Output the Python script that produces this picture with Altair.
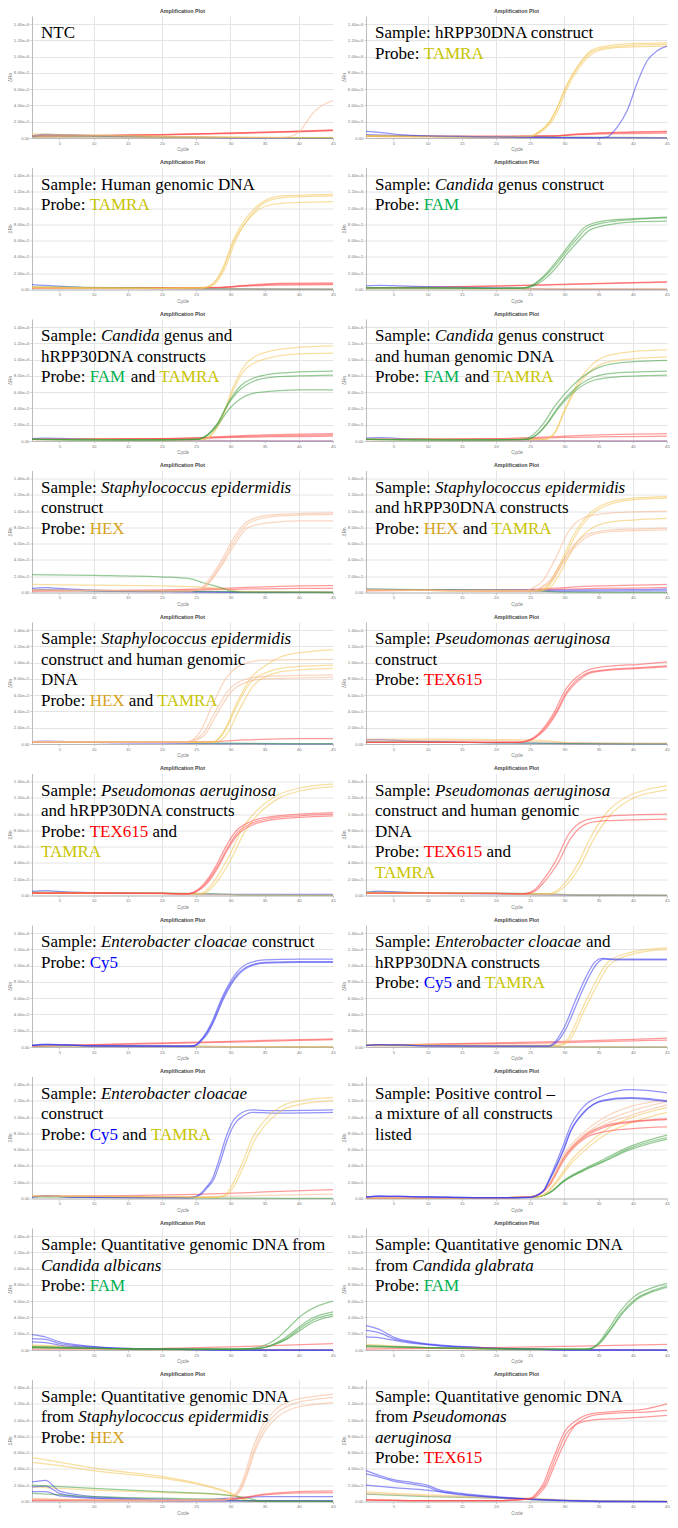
import altair as alt
import pandas as pd

# ---------------- channel colours (line colours) ----------------
CH_KEYS = ["C", "F", "H", "T", "R"]          # Cy5, FAM, HEX, TAMRA, TEX615
CH_COLORS = ["#3b3bf0", "#3f9e3f", "#f5b48e", "#f2c453", "#ff4848"]

# ---------------- traces: (channel, cycles, dRn / 1e5) ----------------
P01 = [
    ("R", [1, 10, 20, 30, 40, 45], [0.25, 0.3, 0.4, 0.6, 0.8, 0.95]),
    ("R", [1, 10, 20, 30, 40, 45], [0.2, 0.28, 0.38, 0.55, 0.75, 0.9]),
    ("R", [1, 10, 20, 30, 40, 45], [0.3, 0.33, 0.42, 0.62, 0.85, 1.0]),
    ("C", [1, 3, 6, 10, 20, 30, 45], [0.3, 0.45, 0.4, 0.3, 0.15, 0.05, 0.02]),
    ("C", [1, 3, 6, 10, 20, 30, 45], [0.2, 0.35, 0.3, 0.25, 0.1, 0.03, 0.02]),
    ("F", [1, 10, 20, 30, 45], [0.1, 0.15, 0.1, 0.05, 0.03]),
    ("T", [1, 10, 20, 30, 45], [0.5, 0.35, 0.2, 0.1, 0.05]),
    ("T", [1, 10, 20, 30, 45], [0.3, 0.3, 0.2, 0.1, 0.05]),
    ("H", [1, 20, 37, 38.5, 40, 41, 42, 43.4, 45], [0.1, 0.05, 0.05, 0.15, 0.7, 1.8, 3.0, 4.0, 4.6]),
]
P02 = [
    ("R", [1, 10, 20, 28, 32, 36, 40, 45], [0.2, 0.2, 0.2, 0.25, 0.45, 0.6, 0.7, 0.75]),
    ("R", [1, 10, 20, 28, 32, 36, 40, 45], [0.2, 0.2, 0.2, 0.25, 0.5, 0.65, 0.75, 0.8]),
    ("R", [1, 10, 20, 28, 32, 36, 40, 45], [0.2, 0.2, 0.2, 0.22, 0.4, 0.5, 0.55, 0.6]),
    ("F", [1, 10, 20, 30, 45], [0.3, 0.2, 0.15, 0.1, 0.05]),
    ("H", [1, 10, 20, 30, 45], [0.2, 0.15, 0.1, 0.05, 0.05]),
    ("C", [1, 5, 10, 20, 30, 45], [0.4, 0.3, 0.2, 0.1, 0.05, 0.03]),
    ("T", [1, 10, 20, 25, 26, 28, 29, 30, 32, 34, 36, 40, 45], [0.3, 0.2, 0.15, 0.2, 0.6, 2.2, 3.8, 5.9, 8.9, 10.8, 11.3, 11.6, 11.7]),
    ("T", [1, 10, 20, 25.3, 26.3, 28.3, 29.3, 30.3, 32.3, 34.3, 36.3, 40, 45], [0.3, 0.2, 0.15, 0.2, 0.6, 2.2, 3.8, 5.9, 8.8, 10.5, 11.0, 11.2, 11.3]),
    ("T", [1, 10, 20, 25, 26, 28, 29, 30, 32, 34, 36, 40, 45], [0.2, 0.15, 0.15, 0.2, 0.6, 2.2, 3.8, 5.8, 8.8, 10.6, 11.1, 11.4, 11.5]),
    ("C", [1, 3, 6, 10, 20, 30, 35, 36.2, 37.7, 39.2, 40.6, 42.1, 43.5, 45], [0.8, 0.7, 0.4, 0.25, 0.15, 0.05, 0.02, 0.1, 1.3, 3.4, 6.7, 9.5, 10.7, 11.3]),
]
P03 = [
    ("R", [1, 10, 20, 28, 32, 37, 45], [0.2, 0.2, 0.2, 0.25, 0.5, 0.75, 0.8]),
    ("R", [1, 10, 20, 28, 32, 37, 45], [0.2, 0.2, 0.2, 0.22, 0.4, 0.55, 0.6]),
    ("R", [1, 10, 20, 28, 32, 37, 45], [0.2, 0.2, 0.2, 0.24, 0.45, 0.65, 0.7]),
    ("C", [1, 3, 6, 10, 20, 30, 45], [0.6, 0.5, 0.35, 0.2, 0.12, 0.05, 0.02]),
    ("F", [1, 10, 20, 30, 45], [0.3, 0.25, 0.15, 0.1, 0.05]),
    ("H", [1, 10, 20, 30, 45], [0.2, 0.15, 0.1, 0.05, 0.05]),
    ("T", [1, 10, 20, 26, 27.3, 28.9, 30.5, 32.4, 35, 37.5, 45], [0.3, 0.2, 0.15, 0.2, 0.6, 2.6, 6.2, 8.9, 10.9, 11.5, 11.7]),
    ("T", [1, 10, 20, 26, 27.3, 28.9, 30.5, 32.4, 35, 37.5, 45], [0.3, 0.2, 0.15, 0.2, 0.6, 2.5, 5.9, 8.4, 10.2, 10.6, 10.8]),
    ("T", [1, 10, 20, 26.3, 27.6, 29.2, 30.8, 32.7, 35.3, 37.8, 45], [0.2, 0.15, 0.15, 0.2, 0.6, 2.6, 6.1, 8.8, 10.8, 11.3, 11.5]),
]
P04 = [
    ("R", [1, 10, 20, 30, 40, 45], [0.2, 0.3, 0.45, 0.65, 0.85, 0.95]),
    ("R", [1, 10, 20, 30, 40, 45], [0.2, 0.27, 0.4, 0.6, 0.8, 0.9]),
    ("C", [1, 3, 6, 10, 20, 25, 30, 45], [0.45, 0.5, 0.45, 0.35, 0.2, 0.1, 0.03, 0.02]),
    ("T", [1, 10, 20, 30, 45], [0.2, 0.15, 0.1, 0.08, 0.05]),
    ("H", [1, 10, 20, 30, 45], [0.15, 0.12, 0.1, 0.08, 0.08]),
    ("F", [1, 10, 20, 24, 25.2, 26.8, 28.7, 29.9, 31.5, 33.2, 36.3, 40, 45], [0.2, 0.2, 0.15, 0.2, 0.5, 1.5, 3.3, 4.6, 6.3, 7.8, 8.5, 8.7, 8.9]),
    ("F", [1, 10, 20, 24.5, 25.7, 27.3, 29.2, 30.4, 32, 33.7, 36.8, 40, 45], [0.2, 0.2, 0.15, 0.2, 0.5, 1.4, 3.1, 4.4, 5.9, 7.3, 8.0, 8.3, 8.4]),
    ("F", [1, 10, 20, 24.2, 25.4, 27, 28.9, 30.1, 31.7, 33.4, 36.5, 40, 45], [0.2, 0.2, 0.15, 0.2, 0.5, 1.5, 3.2, 4.5, 6.1, 7.6, 8.3, 8.6, 8.8]),
]
P05 = [
    ("R", [1, 10, 20, 25, 30, 35, 40, 45], [0.2, 0.25, 0.3, 0.4, 0.6, 0.75, 0.85, 0.9]),
    ("R", [1, 10, 20, 25, 30, 35, 40, 45], [0.2, 0.22, 0.25, 0.3, 0.45, 0.5, 0.55, 0.6]),
    ("R", [1, 10, 20, 25, 30, 35, 40, 45], [0.2, 0.24, 0.28, 0.35, 0.5, 0.62, 0.7, 0.75]),
    ("C", [1, 3, 6, 10, 20, 30, 45], [0.3, 0.35, 0.3, 0.2, 0.1, 0.05, 0.02]),
    ("H", [1, 10, 20, 30, 45], [0.15, 0.12, 0.1, 0.05, 0.05]),
    ("T", [1, 10, 20, 26, 27.3, 28.9, 30.5, 32.4, 35.6, 40, 45], [0.2, 0.2, 0.15, 0.2, 0.8, 3.2, 6.8, 9.6, 11.0, 11.5, 11.7]),
    ("T", [1, 10, 20, 26, 27.3, 28.9, 30.5, 32.4, 35.6, 40, 45], [0.2, 0.2, 0.15, 0.2, 0.8, 3.0, 6.4, 9.0, 10.2, 10.7, 10.8]),
    ("F", [1, 10, 20, 25, 26.7, 28, 29.9, 31.5, 33, 35.6, 40, 45], [0.2, 0.15, 0.15, 0.2, 0.8, 2.0, 5.0, 6.8, 7.6, 8.2, 8.5, 8.6]),
    ("F", [1, 10, 20, 25, 26.7, 28, 29.9, 31.5, 33, 35.6, 40, 45], [0.2, 0.15, 0.15, 0.2, 0.8, 2.0, 4.8, 6.4, 7.2, 7.8, 8.0, 8.1]),
    ("F", [1, 10, 20, 25, 26.7, 28, 29.9, 31.5, 33, 35.6, 40, 45], [0.2, 0.15, 0.15, 0.2, 0.7, 1.8, 4.0, 5.2, 5.8, 6.1, 6.3, 6.3]),
]
P06 = [
    ("R", [1, 10, 20, 25, 30, 35, 40, 45], [0.2, 0.25, 0.3, 0.4, 0.6, 0.75, 0.85, 0.9]),
    ("R", [1, 10, 20, 25, 30, 35, 40, 45], [0.2, 0.22, 0.25, 0.3, 0.45, 0.5, 0.55, 0.6]),
    ("C", [1, 3, 6, 10, 20, 30, 45], [0.35, 0.4, 0.3, 0.2, 0.1, 0.05, 0.02]),
    ("H", [1, 10, 20, 30, 45], [0.15, 0.12, 0.1, 0.05, 0.05]),
    ("T", [1, 10, 20, 27, 28, 28.7, 29.9, 31, 32, 33.8, 36.3, 40, 45], [0.2, 0.2, 0.15, 0.2, 0.5, 1.2, 3.6, 5.6, 7.2, 9.2, 10.5, 11.0, 11.2]),
    ("T", [1, 10, 20, 27, 28, 28.7, 29.9, 31, 32, 33.8, 36.3, 40, 45], [0.2, 0.2, 0.15, 0.2, 0.5, 1.1, 3.4, 5.3, 6.8, 8.6, 9.7, 10.1, 10.3]),
    ("F", [1, 10, 20, 24, 25.5, 26.8, 28.7, 31.3, 34.4, 38, 45], [0.2, 0.15, 0.15, 0.2, 0.8, 2.0, 4.4, 6.9, 8.8, 9.6, 9.9]),
    ("F", [1, 10, 20, 24.5, 26, 27.3, 29.2, 31.8, 34.4, 38, 45], [0.2, 0.15, 0.15, 0.2, 0.8, 2.0, 4.3, 6.6, 7.9, 8.4, 8.6]),
    ("F", [1, 10, 20, 24.5, 26, 27.3, 29.2, 31.8, 34.4, 38, 45], [0.2, 0.15, 0.15, 0.2, 0.8, 1.9, 4.1, 6.3, 7.5, 7.9, 8.1]),
]
P07 = [
    ("R", [1, 10, 20, 25, 30, 35, 40, 45], [0.2, 0.25, 0.3, 0.4, 0.55, 0.7, 0.8, 0.85]),
    ("R", [1, 10, 20, 25, 30, 35, 40, 45], [0.2, 0.22, 0.25, 0.3, 0.38, 0.45, 0.5, 0.5]),
    ("C", [1, 3, 6, 10, 20, 30, 45], [0.5, 0.6, 0.45, 0.3, 0.15, 0.05, 0.02]),
    ("C", [1, 3, 6, 10, 20, 30, 45], [0.3, 0.35, 0.3, 0.2, 0.1, 0.05, 0.02]),
    ("F", [1, 10, 20, 30, 45], [0.3, 0.2, 0.15, 0.1, 0.05]),
    ("T", [1, 10, 20, 25, 28, 30, 32, 45], [1.0, 0.9, 0.8, 0.7, 0.5, 0.3, 0.1, 0.05]),
    ("F", [1, 10, 20.4, 24, 26, 28.6, 30.5, 32, 45], [2.2, 2.1, 1.9, 1.7, 1.2, 0.6, 0.1, 0.02, 0.0]),
    ("H", [1, 10, 20, 24, 25.5, 26.7, 28.6, 30.5, 32.4, 35.6, 40, 45], [0.3, 0.25, 0.2, 0.2, 0.4, 1.4, 3.8, 6.7, 8.7, 9.5, 9.7, 9.8]),
    ("H", [1, 10, 20, 24.2, 25.7, 26.9, 28.8, 30.7, 32.6, 35.8, 40, 45], [0.3, 0.25, 0.2, 0.2, 0.4, 1.3, 3.7, 6.5, 8.5, 9.3, 9.5, 9.6]),
    ("H", [1, 10, 20, 24.2, 25.7, 26.9, 28.8, 30.7, 32.6, 35.8, 40, 45], [0.3, 0.25, 0.2, 0.2, 0.4, 1.2, 3.4, 6.0, 8.0, 8.6, 8.8, 8.8]),
]
P08 = [
    ("R", [1, 10, 20, 25, 30, 35, 40, 45], [0.25, 0.3, 0.3, 0.35, 0.6, 0.8, 0.9, 1.0]),
    ("R", [1, 10, 20, 25, 30, 35, 40, 45], [0.2, 0.25, 0.25, 0.3, 0.4, 0.5, 0.55, 0.6]),
    ("C", [1, 10, 20, 30, 40, 45], [0.3, 0.3, 0.3, 0.3, 0.35, 0.4]),
    ("C", [1, 10, 20, 30, 45], [0.4, 0.3, 0.2, 0.15, 0.2]),
    ("F", [1, 10, 20, 25, 30, 45], [0.4, 0.35, 0.3, 0.25, 0.05, 0.02]),
    ("T", [1, 10, 20, 26, 27.5, 29.3, 31.3, 33.8, 36.3, 40, 45], [0.3, 0.25, 0.2, 0.2, 0.8, 3.4, 7.0, 9.8, 11.0, 11.6, 11.8]),
    ("T", [1, 10, 20, 26.2, 27.7, 29.5, 31.5, 34, 36.5, 40, 45], [0.3, 0.25, 0.2, 0.2, 0.8, 3.3, 6.8, 9.6, 10.8, 11.4, 11.6]),
    ("T", [1, 10, 20, 26.5, 28, 29.5, 31.5, 34, 37, 40, 45], [0.3, 0.25, 0.2, 0.2, 0.7, 2.6, 5.8, 7.9, 8.7, 8.9, 9.1]),
    ("H", [1, 10, 20, 24, 25.5, 26.8, 28.7, 30.6, 33.2, 37, 40, 45], [0.3, 0.25, 0.2, 0.2, 0.6, 1.4, 4.2, 7.5, 9.3, 9.8, 9.9, 10.0]),
    ("H", [1, 10, 20, 25, 26.5, 28, 29.5, 31.5, 33.5, 37, 40, 45], [0.3, 0.25, 0.2, 0.2, 0.6, 1.6, 3.6, 5.9, 7.2, 7.7, 7.8, 7.9]),
    ("H", [1, 10, 20, 25.2, 26.7, 28.2, 29.7, 31.7, 33.7, 37, 40, 45], [0.3, 0.25, 0.2, 0.2, 0.6, 1.5, 3.5, 5.7, 7.0, 7.5, 7.6, 7.7]),
]
P09 = [
    ("R", [1, 10, 20, 28, 32, 36, 40, 45], [0.2, 0.2, 0.25, 0.3, 0.5, 0.6, 0.65, 0.65]),
    ("C", [1, 3, 6, 10, 20, 30, 45], [0.3, 0.35, 0.3, 0.2, 0.1, 0.05, 0.02]),
    ("F", [1, 10, 20, 30, 45], [0.3, 0.25, 0.2, 0.1, 0.05]),
    ("T", [1, 10, 20, 27, 28, 29.2, 30.8, 32.7, 35.6, 38, 42, 45], [0.3, 0.25, 0.2, 0.2, 0.5, 1.8, 4.8, 7.8, 9.9, 10.9, 11.4, 11.6]),
    ("T", [1, 10, 20, 27, 28, 29.2, 30.8, 32.7, 35.6, 38, 45], [0.3, 0.25, 0.2, 0.2, 0.4, 1.6, 4.4, 7.3, 8.9, 9.4, 9.7]),
    ("T", [1, 10, 20, 27.5, 28.5, 29.7, 31.3, 33.2, 36.1, 38.5, 45], [0.3, 0.25, 0.2, 0.2, 0.4, 1.5, 4.2, 7.0, 8.6, 9.0, 9.3]),
    ("H", [1, 10, 20, 23, 24.2, 25.5, 27.3, 29.2, 31.8, 35, 45], [0.3, 0.25, 0.2, 0.2, 0.4, 1.4, 4.6, 7.9, 9.8, 10.3, 10.4]),
    ("H", [1, 10, 20, 23.3, 24.5, 26, 27.8, 29.7, 32, 35, 45], [0.3, 0.25, 0.2, 0.2, 0.4, 1.3, 4.0, 6.6, 7.9, 8.3, 8.5]),
    ("H", [1, 10, 20, 23.5, 24.8, 26.3, 28.1, 30, 32.3, 35, 45], [0.3, 0.25, 0.2, 0.2, 0.4, 1.2, 3.8, 6.3, 7.6, 8.0, 8.2]),
]
P10 = [
    ("T", [1, 10, 20, 25, 28, 30, 33, 45], [0.6, 0.6, 0.55, 0.5, 0.35, 0.15, 0.05, 0.05]),
    ("C", [1, 3, 6, 10, 20, 30, 45], [0.5, 0.55, 0.4, 0.3, 0.15, 0.05, 0.02]),
    ("F", [1, 10, 20, 30, 45], [0.3, 0.25, 0.15, 0.08, 0.05]),
    ("H", [1, 10, 20, 30, 45], [0.5, 0.45, 0.4, 0.2, 0.1]),
    ("R", [1, 10, 20, 23, 24.5, 25.5, 26.8, 28.7, 29.9, 31.9, 33.8, 37, 41, 45], [0.2, 0.2, 0.2, 0.2, 0.4, 0.8, 1.8, 4.2, 6.3, 8.3, 9.2, 9.6, 9.8, 10.1]),
    ("R", [1, 10, 20, 23.3, 24.8, 25.8, 27.1, 29, 30.2, 32.2, 34.1, 37, 41, 45], [0.2, 0.2, 0.2, 0.2, 0.4, 0.8, 1.7, 4.0, 6.0, 7.9, 8.8, 9.1, 9.3, 9.5]),
    ("R", [1, 10, 20, 23.2, 24.7, 25.7, 27, 28.9, 30.1, 32.1, 34, 37, 41, 45], [0.2, 0.2, 0.2, 0.2, 0.4, 0.8, 1.8, 4.1, 6.1, 8.1, 8.9, 9.2, 9.4, 9.6]),
]
P11 = [
    ("C", [1, 3, 6, 10, 20, 30, 45], [0.5, 0.6, 0.45, 0.35, 0.25, 0.15, 0.15]),
    ("F", [1, 10, 20, 28, 32, 45], [0.4, 0.35, 0.3, 0.2, 0.05, 0.02]),
    ("H", [1, 10, 20, 30, 45], [0.3, 0.25, 0.2, 0.1, 0.05]),
    ("T", [1, 10, 20, 25.5, 26.7, 28, 29.9, 31.8, 33.7, 36.8, 40.6, 45], [0.3, 0.3, 0.25, 0.2, 0.8, 2.2, 5.0, 8.3, 10.3, 12.3, 13.3, 13.7]),
    ("T", [1, 10, 20, 25.9, 27.1, 28.4, 30.3, 32.2, 34.1, 37.2, 41, 45], [0.3, 0.3, 0.25, 0.2, 0.8, 2.1, 4.8, 8.0, 10.0, 12.0, 13.0, 13.4]),
    ("R", [1, 10, 20, 23.5, 24.8, 26.1, 28, 29.2, 30.8, 33, 36, 40, 45], [0.3, 0.3, 0.25, 0.2, 0.5, 1.4, 3.8, 5.8, 7.9, 9.1, 9.7, 10.0, 10.2]),
    ("R", [1, 10, 20, 23.7, 25, 26.3, 28.2, 29.4, 31, 33.2, 36, 40, 45], [0.3, 0.3, 0.25, 0.2, 0.5, 1.4, 3.7, 5.6, 7.7, 8.9, 9.5, 9.8, 10.0]),
    ("R", [1, 10, 20, 23.8, 25.1, 26.4, 28.3, 29.5, 31.1, 33.3, 36, 40, 45], [0.3, 0.3, 0.25, 0.2, 0.5, 1.3, 3.6, 5.5, 7.5, 8.7, 9.3, 9.6, 9.8]),
]
P12 = [
    ("C", [1, 3, 6, 10, 20, 30, 45], [0.4, 0.55, 0.4, 0.3, 0.2, 0.08, 0.03]),
    ("F", [1, 10, 20, 28, 32, 45], [0.4, 0.35, 0.3, 0.2, 0.05, 0.02]),
    ("H", [1, 10, 20, 30, 45], [0.3, 0.25, 0.2, 0.1, 0.05]),
    ("T", [1, 10, 20, 27.5, 28.7, 29.9, 31.9, 33.8, 36.3, 39.5, 42, 45], [0.3, 0.3, 0.25, 0.2, 0.5, 1.4, 3.8, 7.1, 10.3, 12.3, 13.0, 13.5]),
    ("T", [1, 10, 20, 27.9, 29.1, 30.3, 32.3, 34.2, 36.7, 39.9, 42.4, 45], [0.3, 0.3, 0.25, 0.2, 0.5, 1.3, 3.6, 6.8, 9.9, 11.9, 12.6, 13.0]),
    ("R", [1, 10, 20, 24, 25.5, 26.8, 28.7, 30.6, 33.2, 36, 40, 45], [0.3, 0.3, 0.25, 0.2, 0.6, 1.8, 4.2, 7.5, 9.3, 9.7, 9.9, 10.0]),
    ("R", [1, 10, 20, 24.3, 25.8, 27.1, 29, 30.9, 33.5, 36, 40, 45], [0.3, 0.3, 0.25, 0.2, 0.6, 1.7, 3.9, 7.0, 8.9, 9.2, 9.3, 9.4]),
]
P13 = [
    ("R", [1, 10, 20, 30, 40, 45], [0.1, 0.3, 0.5, 0.7, 0.9, 1.0]),
    ("R", [1, 10, 20, 30, 40, 45], [0.1, 0.25, 0.4, 0.6, 0.8, 0.9]),
    ("F", [1, 10, 20, 30, 45], [0.15, 0.1, 0.1, 0.05, 0.03]),
    ("T", [1, 10, 20, 30, 45], [0.2, 0.15, 0.1, 0.05, 0.03]),
    ("H", [1, 10, 20, 30, 45], [0.15, 0.1, 0.08, 0.05, 0.03]),
    ("C", [1, 3, 6, 10, 20, 24, 24.8, 25.5, 26.5, 27.3, 28.9, 30.5, 32.4, 35, 40, 45], [0.2, 0.35, 0.25, 0.15, 0.1, 0.1, 0.2, 0.7, 1.8, 3.1, 6.3, 8.7, 10.2, 10.7, 10.8, 10.8]),
    ("C", [1, 3, 6, 10, 20, 24.2, 25, 25.7, 26.7, 27.5, 29.1, 30.7, 32.6, 35, 40, 45], [0.2, 0.3, 0.25, 0.15, 0.1, 0.1, 0.2, 0.7, 1.7, 3.0, 6.1, 8.4, 9.8, 10.3, 10.4, 10.4]),
    ("C", [1, 3, 6, 10, 20, 24.1, 24.9, 25.6, 26.6, 27.4, 29, 30.6, 32.5, 35, 40, 45], [0.2, 0.3, 0.25, 0.15, 0.1, 0.1, 0.2, 0.7, 1.8, 3.0, 6.2, 8.5, 9.9, 10.4, 10.5, 10.5]),
]
P14 = [
    ("R", [1, 10, 20, 30, 40, 45], [0.2, 0.35, 0.5, 0.7, 0.95, 1.1]),
    ("R", [1, 10, 20, 30, 40, 45], [0.2, 0.3, 0.4, 0.55, 0.75, 0.85]),
    ("F", [1, 10, 20, 30, 45], [0.2, 0.15, 0.1, 0.05, 0.02]),
    ("H", [1, 10, 20, 30, 45], [0.15, 0.1, 0.08, 0.05, 0.03]),
    ("T", [1, 10, 20, 29, 30.6, 32.6, 34.5, 36.3, 39.5, 42, 45], [0.3, 0.25, 0.2, 0.2, 1.1, 4.7, 7.9, 10.4, 11.6, 12.0, 12.2]),
    ("T", [1, 10, 20, 29.3, 30.9, 32.9, 34.8, 36.6, 39.8, 42.3, 45], [0.3, 0.25, 0.2, 0.2, 1.0, 4.5, 7.6, 10.1, 11.4, 11.8, 12.0]),
    ("C", [1, 3, 6, 10, 20, 27.5, 28.7, 29.9, 31.9, 33.2, 34.5, 35.5, 38, 45], [0.2, 0.3, 0.25, 0.15, 0.1, 0.1, 0.7, 2.3, 6.3, 8.7, 10.5, 10.9, 10.8, 10.8]),
    ("C", [1, 3, 6, 10, 20, 27.8, 29, 30.2, 32.2, 33.5, 34.8, 35.8, 38, 45], [0.2, 0.3, 0.25, 0.15, 0.1, 0.1, 0.7, 2.2, 6.1, 8.5, 10.3, 10.8, 10.7, 10.7]),
]
P15 = [
    ("R", [1, 15, 25, 35, 45], [0.3, 0.35, 0.5, 0.8, 1.1]),
    ("H", [1, 20, 30, 45], [0.3, 0.2, 0.3, 0.55]),
    ("F", [1, 10, 20, 30, 45], [0.2, 0.15, 0.1, 0.05, 0.02]),
    ("C", [1, 3, 6, 10, 20, 24, 25.5, 26.4, 27.4, 28.4, 29.3, 30.3, 31.8, 33, 36, 45], [0.2, 0.3, 0.2, 0.15, 0.1, 0.1, 0.5, 1.3, 2.5, 4.9, 7.4, 9.4, 10.6, 10.9, 10.8, 10.9]),
    ("C", [1, 3, 6, 10, 20, 24.2, 25.7, 26.6, 27.6, 28.6, 29.5, 30.5, 32, 33.2, 36, 45], [0.2, 0.3, 0.2, 0.15, 0.1, 0.1, 0.5, 1.3, 2.4, 4.7, 7.1, 9.0, 10.2, 10.6, 10.5, 10.6]),
    ("T", [1, 10, 20, 28, 29.3, 30.3, 31.8, 33.2, 35.2, 37.6, 40, 45], [0.3, 0.25, 0.2, 0.15, 0.5, 1.7, 4.5, 7.4, 9.8, 11.4, 12.0, 12.4]),
    ("T", [1, 10, 20, 28.3, 29.6, 30.6, 32.1, 33.5, 35.5, 37.9, 40.3, 45], [0.3, 0.25, 0.2, 0.15, 0.5, 1.6, 4.3, 7.1, 9.4, 11.0, 11.6, 12.0]),
]
P16 = [
    ("F", [1, 10, 20, 26, 28, 29.9, 32.8, 35.7, 39.6, 45], [0.1, 0.1, 0.1, 0.2, 0.8, 2.2, 3.6, 4.8, 6.4, 7.8]),
    ("F", [1, 10, 20, 26, 28, 29.9, 32.8, 35.7, 39.6, 45], [0.1, 0.1, 0.1, 0.2, 0.8, 2.1, 3.4, 4.5, 6.0, 7.3]),
    ("F", [1, 10, 20, 26, 28, 29.9, 32.8, 35.7, 39.6, 45], [0.1, 0.1, 0.1, 0.2, 0.8, 2.1, 3.5, 4.6, 6.2, 7.5]),
    ("T", [1, 10, 20, 26, 27.5, 28.9, 30.9, 33.8, 36.7, 40, 45], [0.1, 0.1, 0.1, 0.2, 0.8, 2.2, 4.6, 7.0, 8.8, 10.0, 11.2]),
    ("T", [1, 10, 20, 26, 27.5, 28.9, 30.9, 33.8, 36.7, 40, 45], [0.1, 0.1, 0.1, 0.2, 0.7, 2.0, 4.2, 6.5, 8.2, 9.4, 10.6]),
    ("R", [1, 10, 20, 25, 26.5, 27.9, 28.9, 29.9, 32.8, 35.7, 40, 45], [0.1, 0.1, 0.1, 0.2, 0.6, 1.8, 3.4, 5.0, 7.7, 8.9, 9.5, 9.8]),
    ("R", [1, 10, 20, 25, 26.5, 27.9, 28.9, 29.9, 32.8, 35.7, 40, 45], [0.1, 0.1, 0.1, 0.2, 0.6, 1.7, 3.2, 4.7, 7.3, 8.2, 8.6, 8.8]),
    ("R", [1, 10, 20, 25, 26.5, 27.9, 28.9, 29.9, 32.8, 35.7, 40, 45], [0.1, 0.1, 0.1, 0.2, 0.6, 1.8, 3.3, 4.9, 7.5, 8.7, 9.4, 9.7]),
    ("H", [1, 10, 20, 25, 26.5, 27.9, 29.9, 32.8, 35.7, 39.6, 45], [0.1, 0.1, 0.1, 0.2, 0.6, 2.0, 5.4, 8.1, 9.9, 11.3, 12.1]),
    ("H", [1, 10, 20, 25, 26.5, 27.9, 29.9, 32.8, 35.7, 39.6, 45], [0.1, 0.1, 0.1, 0.2, 0.6, 1.9, 5.0, 7.7, 9.4, 10.7, 11.9]),
    ("H", [1, 10, 20, 25, 26.5, 27.9, 29.9, 32.8, 35.7, 39.6, 45], [0.1, 0.1, 0.1, 0.2, 0.6, 1.8, 4.8, 7.4, 9.0, 10.2, 11.5]),
    ("C", [1, 3, 6, 10, 20, 25, 26, 27, 27.9, 29.9, 30.9, 32.8, 35.7, 39.6, 42, 45], [0.2, 0.3, 0.25, 0.2, 0.1, 0.15, 0.4, 1.0, 2.6, 6.7, 8.9, 11.3, 12.7, 13.4, 13.3, 13.0]),
    ("C", [1, 3, 6, 10, 20, 25, 26, 27, 27.9, 29.9, 30.9, 32.8, 35.7, 39.6, 42, 45], [0.2, 0.3, 0.25, 0.2, 0.1, 0.15, 0.4, 1.0, 2.4, 6.0, 8.2, 10.5, 12.1, 12.4, 12.3, 12.0]),
    ("C", [1, 3, 6, 10, 20, 25, 26, 27, 27.9, 29.9, 30.9, 32.8, 35.7, 39.6, 42, 45], [0.2, 0.3, 0.25, 0.2, 0.1, 0.15, 0.4, 1.0, 2.4, 6.1, 8.3, 10.6, 12.0, 12.3, 12.2, 11.9]),
]
P17 = [
    ("H", [1, 10, 20, 30, 45], [0.3, 0.2, 0.1, 0.05, 0.02]),
    ("T", [1, 5, 10, 15, 20, 30, 45], [0.6, 0.5, 0.3, 0.15, 0.08, 0.05, 0.03]),
    ("T", [1, 5, 10, 15, 20, 30, 45], [0.5, 0.4, 0.25, 0.1, 0.05, 0.03, 0.02]),
    ("C", [1, 3, 5, 8, 12, 20, 30, 45], [1.9, 1.6, 1.0, 0.6, 0.3, 0.1, 0.0, 0.0]),
    ("C", [1, 3, 5, 8, 12, 20, 30, 45], [1.4, 1.3, 0.8, 0.5, 0.3, 0.1, 0.0, 0.0]),
    ("C", [1, 3, 5, 10, 20, 30, 45], [1.0, 0.9, 0.6, 0.3, 0.1, 0.0, 0.0]),
    ("R", [1, 15, 25, 35, 45], [0.1, 0.1, 0.3, 0.5, 0.8]),
    ("F", [1, 10, 20, 30, 33, 35.6, 36.8, 38.1, 40.6, 42.5, 45], [0.4, 0.2, 0.1, 0.1, 0.2, 0.8, 1.4, 2.4, 4.4, 5.3, 6.0]),
    ("F", [1, 10, 20, 30, 34, 36.5, 38, 39.4, 41.9, 45], [0.4, 0.2, 0.1, 0.1, 0.2, 0.8, 1.5, 2.4, 3.9, 4.7]),
    ("F", [1, 10, 20, 30, 34.2, 36.7, 38.2, 39.6, 42.1, 45], [0.3, 0.2, 0.1, 0.1, 0.2, 0.8, 1.4, 2.3, 3.7, 4.4]),
    ("F", [1, 10, 20, 30, 34.4, 36.9, 38.4, 39.8, 42.3, 45], [0.3, 0.2, 0.1, 0.1, 0.2, 0.8, 1.4, 2.2, 3.5, 4.2]),
]
P18 = [
    ("H", [1, 10, 20, 30, 45], [0.3, 0.2, 0.1, 0.05, 0.03]),
    ("T", [1, 5, 10, 20, 30, 45], [0.7, 0.5, 0.3, 0.1, 0.05, 0.03]),
    ("C", [1, 3, 5, 8, 12, 18, 25, 30, 45], [3.0, 2.5, 1.6, 1.0, 0.6, 0.3, 0.1, 0.0, 0.0]),
    ("C", [1, 3, 5, 8, 12, 18, 25, 30, 45], [2.4, 2.1, 1.4, 0.9, 0.5, 0.3, 0.1, 0.0, 0.0]),
    ("C", [1, 3, 5, 8, 12, 20, 30, 45], [1.6, 1.5, 1.2, 0.8, 0.5, 0.2, 0.05, 0.0]),
    ("R", [1, 20, 30, 45], [0.1, 0.3, 0.45, 0.7]),
    ("F", [1, 10, 20, 30, 33, 33.8, 35.1, 36.3, 38.2, 40.1, 42.7, 45], [0.5, 0.3, 0.15, 0.1, 0.1, 0.2, 1.0, 2.4, 4.8, 6.5, 7.6, 8.2]),
    ("F", [1, 10, 20, 30, 33.2, 34, 35.3, 36.5, 38.4, 40.3, 42.9, 45], [0.5, 0.3, 0.15, 0.1, 0.1, 0.2, 1.0, 2.3, 4.6, 6.2, 7.3, 7.9]),
    ("F", [1, 10, 20, 30, 33.3, 34.1, 35.4, 36.6, 38.5, 40.4, 43, 45], [0.4, 0.3, 0.15, 0.1, 0.1, 0.2, 1.0, 2.3, 4.5, 6.1, 7.2, 7.7]),
]
P19 = [
    ("T", [1, 6, 10.9, 20.6, 26.4, 29.3, 31.3, 32.9, 45], [5.4, 4.7, 4.0, 3.0, 2.0, 1.3, 0.6, 0.05, 0.02]),
    ("T", [1, 6, 10.9, 20.6, 26.4, 29.3, 31.3, 32.9, 45], [4.8, 4.3, 3.7, 2.8, 1.9, 1.2, 0.5, 0.05, 0.02]),
    ("T", [1, 10, 20, 28, 31, 33, 45], [1.8, 1.4, 1.1, 0.9, 0.6, 0.05, 0.02]),
    ("C", [1, 3, 5, 8, 12, 20, 25, 30, 35, 45], [2.4, 2.6, 1.3, 0.8, 0.5, 0.3, 0.2, 0.4, 0.6, 0.6]),
    ("C", [1, 3, 5, 8, 15, 25, 35, 45], [1.8, 1.9, 1.0, 0.6, 0.3, 0.1, 0.1, 0.1]),
    ("C", [1, 3, 5, 10, 20, 45], [1.2, 1.2, 0.7, 0.4, 0.1, 0.05]),
    ("F", [1, 10, 20, 28, 32, 35, 45], [2.0, 1.6, 1.2, 0.9, 0.5, 0.05, 0.0]),
    ("F", [1, 10, 20, 30, 35, 45], [1.0, 0.6, 0.4, 0.2, 0.02, 0.0]),
    ("R", [1, 20, 30, 35, 40, 45], [0.2, 0.1, 0.3, 0.9, 1.2, 1.3]),
    ("R", [1, 20, 30, 35, 40, 45], [0.1, 0.1, 0.25, 0.8, 1.05, 1.1]),
    ("H", [1, 10, 20, 29, 30.3, 31.3, 32.2, 33.2, 34.7, 36.6, 39, 42, 45], [0.3, 0.2, 0.15, 0.2, 0.6, 1.6, 3.6, 6.4, 9.3, 11.3, 12.4, 12.9, 13.2]),
    ("H", [1, 10, 20, 29.2, 30.5, 31.5, 32.4, 33.4, 34.9, 36.8, 39.2, 42, 45], [0.3, 0.2, 0.15, 0.2, 0.6, 1.6, 3.5, 6.2, 9.0, 10.9, 12.0, 12.5, 12.8]),
    ("H", [1, 10, 20, 29.3, 30.6, 31.6, 32.5, 33.5, 35, 36.9, 39.3, 42, 45], [0.3, 0.2, 0.15, 0.2, 0.6, 1.5, 3.4, 6.0, 8.6, 10.4, 11.5, 11.9, 12.2]),
]
P20 = [
    ("T", [1, 5, 10, 20, 25, 30, 35, 45], [1.2, 1.0, 0.8, 0.5, 0.4, 0.2, 0.05, 0.02]),
    ("F", [1, 10, 20, 30, 45], [0.9, 0.6, 0.4, 0.1, 0.02]),
    ("H", [1, 10, 20, 30, 45], [1.0, 0.7, 0.4, 0.15, 0.05]),
    ("C", [1, 3, 5, 8, 10, 11.5, 15, 20, 28, 35, 45], [3.8, 3.2, 2.7, 2.3, 2.0, 1.5, 1.0, 0.6, 0.2, 0.0, 0.0]),
    ("C", [1, 3, 5, 8, 10, 11.5, 15, 20, 28, 35, 45], [3.4, 3.0, 2.5, 2.1, 1.8, 1.3, 0.9, 0.5, 0.2, 0.0, 0.0]),
    ("C", [1, 5, 10, 15, 20, 30, 45], [2.0, 1.7, 1.4, 0.8, 0.5, 0.1, 0.0]),
    ("R", [1, 10, 20, 23, 25, 26, 27, 27.9, 28.9, 29.9, 31.8, 34, 38, 42, 45], [0.2, 0.1, 0.1, 0.2, 0.4, 1.1, 2.3, 4.3, 6.4, 8.4, 10.0, 10.8, 11.1, 11.4, 12.0]),
    ("R", [1, 10, 20, 23.2, 25.2, 26.2, 27.2, 28.1, 29.1, 30.1, 32, 34.2, 38, 42, 45], [0.2, 0.1, 0.1, 0.2, 0.4, 1.1, 2.2, 4.1, 6.2, 8.1, 9.7, 10.6, 10.9, 11.0, 11.2]),
    ("R", [1, 10, 20, 23.4, 25.4, 26.4, 27.4, 28.3, 29.3, 30.3, 31.8, 34, 38, 42, 45], [0.2, 0.1, 0.1, 0.2, 0.4, 1.0, 2.1, 3.9, 5.9, 7.7, 9.5, 10.0, 10.2, 10.4, 10.6]),
]

# ---------------- annotation text ----------------
BLK = "#000000"
TAM = "#c8c400"
FAMC = "#00b050"
HEXC = "#d6a21c"
TEXC = "#ff0000"
CY5C = "#0000ff"


def s(t, c=BLK, it=False):
    return (t, c, it)


def i(t):
    return (t, BLK, True)


TEXT01 = [[s("NTC")]]
TEXT02 = [[s("Sample: hRPP30DNA construct")], [s("Probe: "), s("TAMRA", TAM)]]
TEXT03 = [[s("Sample: Human genomic DNA")], [s("Probe: "), s("TAMRA", TAM)]]
TEXT04 = [[s("Sample: "), i("Candida"), s(" genus construct")], [s("Probe: "), s("FAM", FAMC)]]
TEXT05 = [[s("Sample: "), i("Candida"), s(" genus and")], [s("hRPP30DNA constructs")],
          [s("Probe: "), s("FAM", FAMC), s(" and "), s("TAMRA", TAM)]]
TEXT06 = [[s("Sample: "), i("Candida"), s(" genus construct")], [s("and human genomic DNA")],
          [s("Probe: "), s("FAM", FAMC), s(" and "), s("TAMRA", TAM)]]
TEXT07 = [[s("Sample: "), i("Staphylococcus epidermidis")], [s("construct")], [s("Probe: "), s("HEX", HEXC)]]
TEXT08 = [[s("Sample: "), i("Staphylococcus epidermidis")], [s("and hRPP30DNA constructs")],
          [s("Probe: "), s("HEX", HEXC), s(" and "), s("TAMRA", TAM)]]
TEXT09 = [[s("Sample: "), i("Staphylococcus epidermidis")], [s("construct and human genomic")], [s("DNA")],
          [s("Probe: "), s("HEX", HEXC), s(" and "), s("TAMRA", TAM)]]
TEXT10 = [[s("Sample: "), i("Pseudomonas aeruginosa")], [s("construct")], [s("Probe: "), s("TEX615", TEXC)]]
TEXT11 = [[s("Sample: "), i("Pseudomonas aeruginosa")], [s("and hRPP30DNA constructs")],
          [s("Probe: "), s("TEX615", TEXC), s(" and")], [s("TAMRA", TAM)]]
TEXT12 = [[s("Sample: "), i("Pseudomonas aeruginosa")], [s("construct and human genomic")], [s("DNA")],
          [s("Probe: "), s("TEX615", TEXC), s(" and")], [s("TAMRA", TAM)]]
TEXT13 = [[s("Sample: "), i("Enterobacter cloacae"), s(" construct")], [s("Probe: "), s("Cy5", CY5C)]]
TEXT14 = [[s("Sample: "), i("Enterobacter cloacae"), s(" and")], [s("hRPP30DNA constructs")],
          [s("Probe: "), s("Cy5", CY5C), s(" and "), s("TAMRA", TAM)]]
TEXT15 = [[s("Sample: "), i("Enterobacter cloacae")], [s("construct")],
          [s("Probe: "), s("Cy5", CY5C), s(" and "), s("TAMRA", TAM)]]
TEXT16 = [[s("Sample: Positive control \u2013")], [s("a mixture of all constructs")], [s("listed")]]
TEXT17 = [[s("Sample: Quantitative genomic DNA from")], [i("Candida albicans")], [s("Probe: "), s("FAM", FAMC)]]
TEXT18 = [[s("Sample: Quantitative genomic DNA")], [s("from "), i("Candida glabrata")], [s("Probe: "), s("FAM", FAMC)]]
TEXT19 = [[s("Sample: Quantitative genomic DNA")], [s("from "), i("Staphylococcus epidermidis")],
          [s("Probe: "), s("HEX", HEXC)]]
TEXT20 = [[s("Sample: Quantitative genomic DNA")], [s("from "), i("Pseudomonas")], [i("aeruginosa")],
          [s("Probe: "), s("TEX615", TEXC)]]

PANELS = [P01, P02, P03, P04, P05, P06, P07, P08, P09, P10,
          P11, P12, P13, P14, P15, P16, P17, P18, P19, P20]
TEXTS = [TEXT01, TEXT02, TEXT03, TEXT04, TEXT05, TEXT06, TEXT07, TEXT08, TEXT09, TEXT10,
         TEXT11, TEXT12, TEXT13, TEXT14, TEXT15, TEXT16, TEXT17, TEXT18, TEXT19, TEXT20]

Y_TICKS = [0, 2, 4, 6, 8, 10, 12, 14]
X_TICKS = [5, 10, 15, 20, 25, 30, 35, 40, 45]

# ---------------- layout / style ----------------
W, H = 301, 122
FS = 17          # annotation font size
TX, TY, LH = 9, 22, 20.5

# Times / Liberation Serif advance widths (per 1000 em) for placing text runs
_REG = dict(zip("ABCDEFGHIJKLMNOPQRSTUVWXYZ",
                [722, 667, 667, 722, 611, 556, 722, 722, 333, 389, 722, 611, 889, 722, 722, 556, 722, 667, 556, 611, 722, 722, 944, 722, 722, 611]))
_REG.update(zip("abcdefghijklmnopqrstuvwxyz",
                [444, 500, 444, 500, 444, 333, 500, 500, 278, 278, 500, 278, 778, 500, 500, 500, 500, 333, 389, 278, 500, 500, 722, 500, 500, 444]))
_ITA = dict(zip("ABCDEFGHIJKLMNOPQRSTUVWXYZ",
                [611, 611, 667, 722, 611, 611, 722, 722, 333, 444, 667, 556, 833, 667, 722, 611, 722, 611, 500, 556, 722, 611, 833, 611, 556, 556]))
_ITA.update(zip("abcdefghijklmnopqrstuvwxyz",
                [500, 500, 444, 500, 444, 278, 500, 500, 278, 278, 444, 278, 722, 500, 500, 500, 500, 389, 389, 278, 500, 444, 667, 444, 444, 389]))
for _d in (_REG, _ITA):
    _d.update({" ": 250, ":": 278, ".": 250, ",": 250, "-": 333, "\u2013": 500})
    _d.update({str(k): 500 for k in range(10)})


def text_w(t, it):
    d = _ITA if it else _REG
    return sum(d.get(ch, 500) for ch in t) / 1000.0 * FS


GRID = "#e4e4e4"
LAB = "#777777"

x_axis = alt.Axis(values=X_TICKS, title="Cycle", titleFont="Liberation Sans", titleFontSize=4.7,
                  titleFontWeight="normal", titleColor=LAB, titlePadding=1.5,
                  labelFont="Liberation Sans", labelFontSize=4.3, labelColor=LAB, labelPadding=1,
                  labelFlush=False, tickSize=2, tickColor="#cccccc", domainColor="#bbbbbb",
                  gridColor=GRID,
                  gridOpacity={"condition": {"test": "datum.value % 10 === 0", "value": 1}, "value": 0})
y_axis = alt.Axis(values=Y_TICKS, title="\u0394Rn", titleFont="Liberation Sans", titleFontSize=4.5,
                  titleFontWeight="normal", titleColor=LAB, titlePadding=1,
                  labelFont="Liberation Sans", labelFontSize=4.3, labelColor=LAB, labelPadding=1,
                  labelFlush=False, tickSize=2, tickColor="#cccccc", domainColor="#bbbbbb",
                  gridColor=GRID,
                  labelExpr="datum.value == 0 ? '0.00' : format(datum.value * 100000, '.2e')")


def make_panel(traces, lines):
    rows = []
    for k, (ch, xs, vs) in enumerate(traces):
        for x, v in zip(xs, vs):
            rows.append({"cycle": x, "v": v, "id": k, "ch": ch})
    df = pd.DataFrame(rows)
    curves = alt.Chart(df).mark_line(interpolate="monotone", strokeWidth=1.25, opacity=0.55).encode(
        x=alt.X("cycle:Q", scale=alt.Scale(domain=[1, 45], nice=False, zero=False), axis=x_axis),
        y=alt.Y("v:Q", scale=alt.Scale(domain=[0, 15], nice=False), axis=y_axis),
        color=alt.Color("ch:N", scale=alt.Scale(domain=CH_KEYS, range=CH_COLORS), legend=None),
        detail="id:N",
    )
    layers = [curves]
    for li, line in enumerate(lines):
        x = TX
        for text, color, it in line:
            lead = len(text) - len(text.lstrip())
            body = text.strip()
            if body:
                xo = x + text_w(text[:lead], it)
                layers.append(
                    alt.Chart(alt.Data(values=[{}])).mark_text(
                        text=body, font="Liberation Serif", fontSize=FS,
                        fontStyle="italic" if it else "normal", color=color,
                        align="left", baseline="alphabetic"
                    ).encode(x=alt.value(xo), y=alt.value(TY + li * LH))
                )
            x += text_w(text, it)
    return alt.layer(*layers).properties(
        width=W, height=H,
        title=alt.TitleParams("Amplification Plot", font="Liberation Sans", fontSize=5.3,
                              fontWeight="bold", color="#444444", offset=2, anchor="middle"),
    )


panels = [make_panel(p, t) for p, t in zip(PANELS, TEXTS)]

chart = alt.concat(*panels, columns=2, spacing={"row": 29.5, "column": 33}, bounds="flush").properties(
    padding={"left": 24, "top": 8, "right": 638, "bottom": 1499},
    autosize=alt.AutoSizeParams(type="none"),
    background="white",
).configure_view(strokeWidth=0)

chart.save("out.html", embed_options={"renderer": "svg", "actions": False})
